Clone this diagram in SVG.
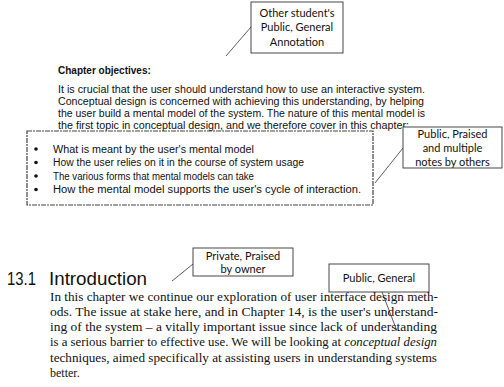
<svg xmlns="http://www.w3.org/2000/svg" width="504" height="387" viewBox="0 0 504 387">
<style>
.note{fill:#fff;stroke:#333;stroke-width:0.9}
.nt{font-family:Lato,"Liberation Sans",sans-serif;font-size:11px;fill:#111;text-anchor:middle}
.lead{stroke:#333;stroke-width:0.8;fill:none}
.sans{font-family:"Liberation Sans",Arial,sans-serif;font-size:10px;fill:#111}
.serif{font-family:"Liberation Serif","Times New Roman",serif;font-size:12px;fill:#111}
.head{font-family:"Liberation Sans",Arial,sans-serif;font-size:18.5px;fill:#111}
.bul{fill:#111}
</style>
<rect width="504" height="387" fill="#fff"/>
<g id="connectors">
<line class="lead" x1="251" y1="27" x2="226" y2="56"/>
<line class="lead" x1="403" y1="148" x2="375" y2="183"/>
<line class="lead" x1="193" y1="264" x2="172" y2="281"/>
<line class="lead" x1="382" y1="292" x2="397" y2="331"/>
</g>
<g id="chapter-objectives">
<text x="58" y="74" class="sans" font-weight="bold" font-size="9.5">Chapter objectives:</text>
<text x="58" y="93" class="sans" textLength="367" lengthAdjust="spacingAndGlyphs">It is crucial that the user should understand how to use an interactive system.</text>
<text x="58" y="105" class="sans" textLength="366" lengthAdjust="spacingAndGlyphs">Conceptual design is concerned with achieving this understanding, by helping</text>
<text x="58" y="117" class="sans" textLength="367" lengthAdjust="spacingAndGlyphs">the user build a mental model of the system. The nature of this mental model is</text>
<text x="58" y="129" class="sans" textLength="351" lengthAdjust="spacingAndGlyphs">the first topic in conceptual design, and we therefore cover in this chapter:</text>
</g>
<g id="objectives-box">
<rect x="27" y="131" width="346" height="74" fill="none" stroke="#444" stroke-width="1.2" stroke-dasharray="5 1 2 1"/>
<circle class="bul" cx="36" cy="149" r="1.8"/>
<circle class="bul" cx="36" cy="162.5" r="1.8"/>
<circle class="bul" cx="36" cy="176" r="1.8"/>
<circle class="bul" cx="36" cy="189.5" r="1.8"/>
<text x="53" y="152.5" class="sans" textLength="201" lengthAdjust="spacingAndGlyphs">What is meant by the user's mental model</text>
<text x="53" y="166" class="sans" textLength="251" lengthAdjust="spacingAndGlyphs">How the user relies on it in the course of system usage</text>
<text x="53" y="179.5" class="sans" textLength="201" lengthAdjust="spacingAndGlyphs">The various forms that mental models can take</text>
<text x="53" y="193" class="sans" textLength="308" lengthAdjust="spacingAndGlyphs">How the mental model supports the user's cycle of interaction.</text>
</g>
<g id="note-other-student">
<rect class="note" x="251" y="2" width="92" height="51"/>
<text class="nt" x="297" y="17">Other student's</text>
<text class="nt" x="297" y="31">Public, General</text>
<text class="nt" x="297" y="46">Annotation</text>
</g>
<g id="note-public-praised">
<rect class="note" x="403" y="127" width="99" height="41"/>
<text class="nt" x="452.5" y="138">Public, Praised</text>
<text class="nt" x="452.5" y="152">and multiple</text>
<text class="nt" x="452.5" y="166">notes by others</text>
</g>
<g id="heading">
<text x="7" y="285" class="head" textLength="29" lengthAdjust="spacingAndGlyphs">13.1</text>
<text x="49" y="285" class="head" textLength="98" lengthAdjust="spacingAndGlyphs">Introduction</text>
</g>
<g id="note-private-praised">
<rect class="note" x="193" y="248" width="100" height="28"/>
<text class="nt" x="243" y="259.5">Private, Praised</text>
<text class="nt" x="243" y="273">by owner</text>
</g>
<g id="note-public-general">
<rect class="note" x="329" y="264" width="100" height="28"/>
<text class="nt" x="379" y="282">Public, General</text>
</g>
<g id="introduction-text">
<text x="50" y="300.5" class="serif" textLength="388" lengthAdjust="spacingAndGlyphs">In this chapter we continue our exploration of user interface design meth-</text>
<text x="50" y="315.8" class="serif" textLength="388" lengthAdjust="spacingAndGlyphs">ods. The issue at stake here, and in Chapter 14, is the user's understand-</text>
<text x="50" y="331.1" class="serif" textLength="387" lengthAdjust="spacingAndGlyphs">ing of the system – a vitally important issue since lack of understanding</text>
<text x="50" y="346.4" class="serif" textLength="387" lengthAdjust="spacingAndGlyphs">is a serious barrier to effective use. We will be looking at <tspan font-style="italic">conceptual design</tspan></text>
<text x="50" y="361.7" class="serif" textLength="387" lengthAdjust="spacingAndGlyphs">techniques, aimed specifically at assisting users in understanding systems</text>
<text x="50" y="377" class="serif">better.</text>
</g>
</svg>
